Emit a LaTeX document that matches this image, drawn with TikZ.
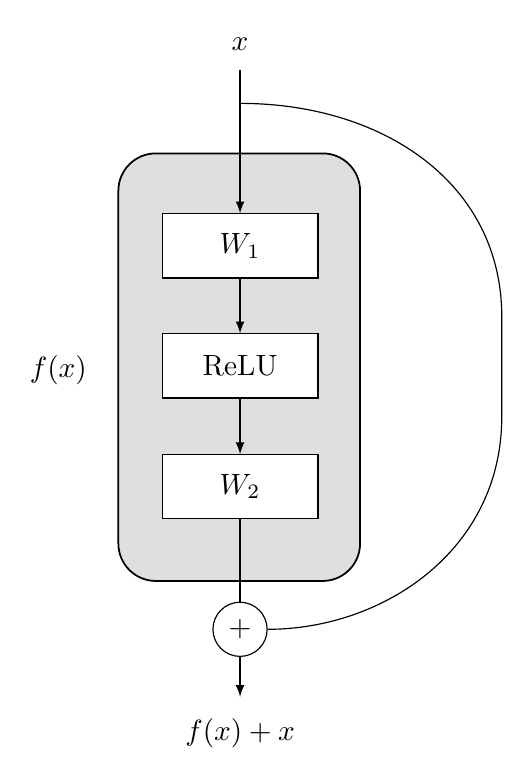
\documentclass[tikz,border=0pt]{standalone}
\usetikzlibrary{arrows}

\begin{document}
\begin{tikzpicture}[
		layer/.style={draw, fill=white, minimum width=1.87cm, minimum height=0.77cm},
		adder/.style={draw, circle, fill=white, minimum size=0.65cm, inner sep=0pt}
	]
		\useasboundingbox (0cm, 0cm) rectangle (6.28cm, -9.31cm);
		\draw[semithick, fill=gray!25, rounded corners=0.45cm] (1.42cm, -1.84cm) rectangle (4.32cm, -6.97cm);
		\node (in) at (2.88cm, -0.53cm) {$x$};
		\coordinate (start) at (2.88cm, -0.84cm);
		\coordinate (split) at (2.88cm, -1.24cm);
		\node[layer] (w1) at (2.88cm, -2.95cm) {$W_1$};
		\node[layer] (relu) at (2.88cm, -4.39cm) {ReLU};
		\node[layer] (w2) at (2.88cm, -5.84cm) {$W_2$};
		\node[adder] (plus) at (2.88cm, -7.55cm) {$+$};
		\coordinate (end) at (2.88cm, -8.36cm);
		\node (out) at (2.88cm, -8.80cm) {$f(x) + x$};
		\node (fx) at (0.70cm, -4.44cm) {$f(x)$};
		\coordinate (farup) at (6.02cm, -3.80cm);
		\coordinate (fardown) at (6.02cm, -5.00cm);
		\draw[-latex] (start) -- (w1);
		\draw[-latex] (w1) -- (relu);
		\draw[-latex] (relu) -- (w2);
		\draw (w2) -- (plus);
		\draw[-latex] (plus) -- (end);
		\draw (split) .. controls (4.6cm, -1.24cm) and (6.02cm, -2.2cm) .. (farup) -- (fardown)
			.. controls (6.02cm, -6.6cm) and (4.6cm, -7.55cm) .. (plus.east);
	\end{tikzpicture}
\end{document}
